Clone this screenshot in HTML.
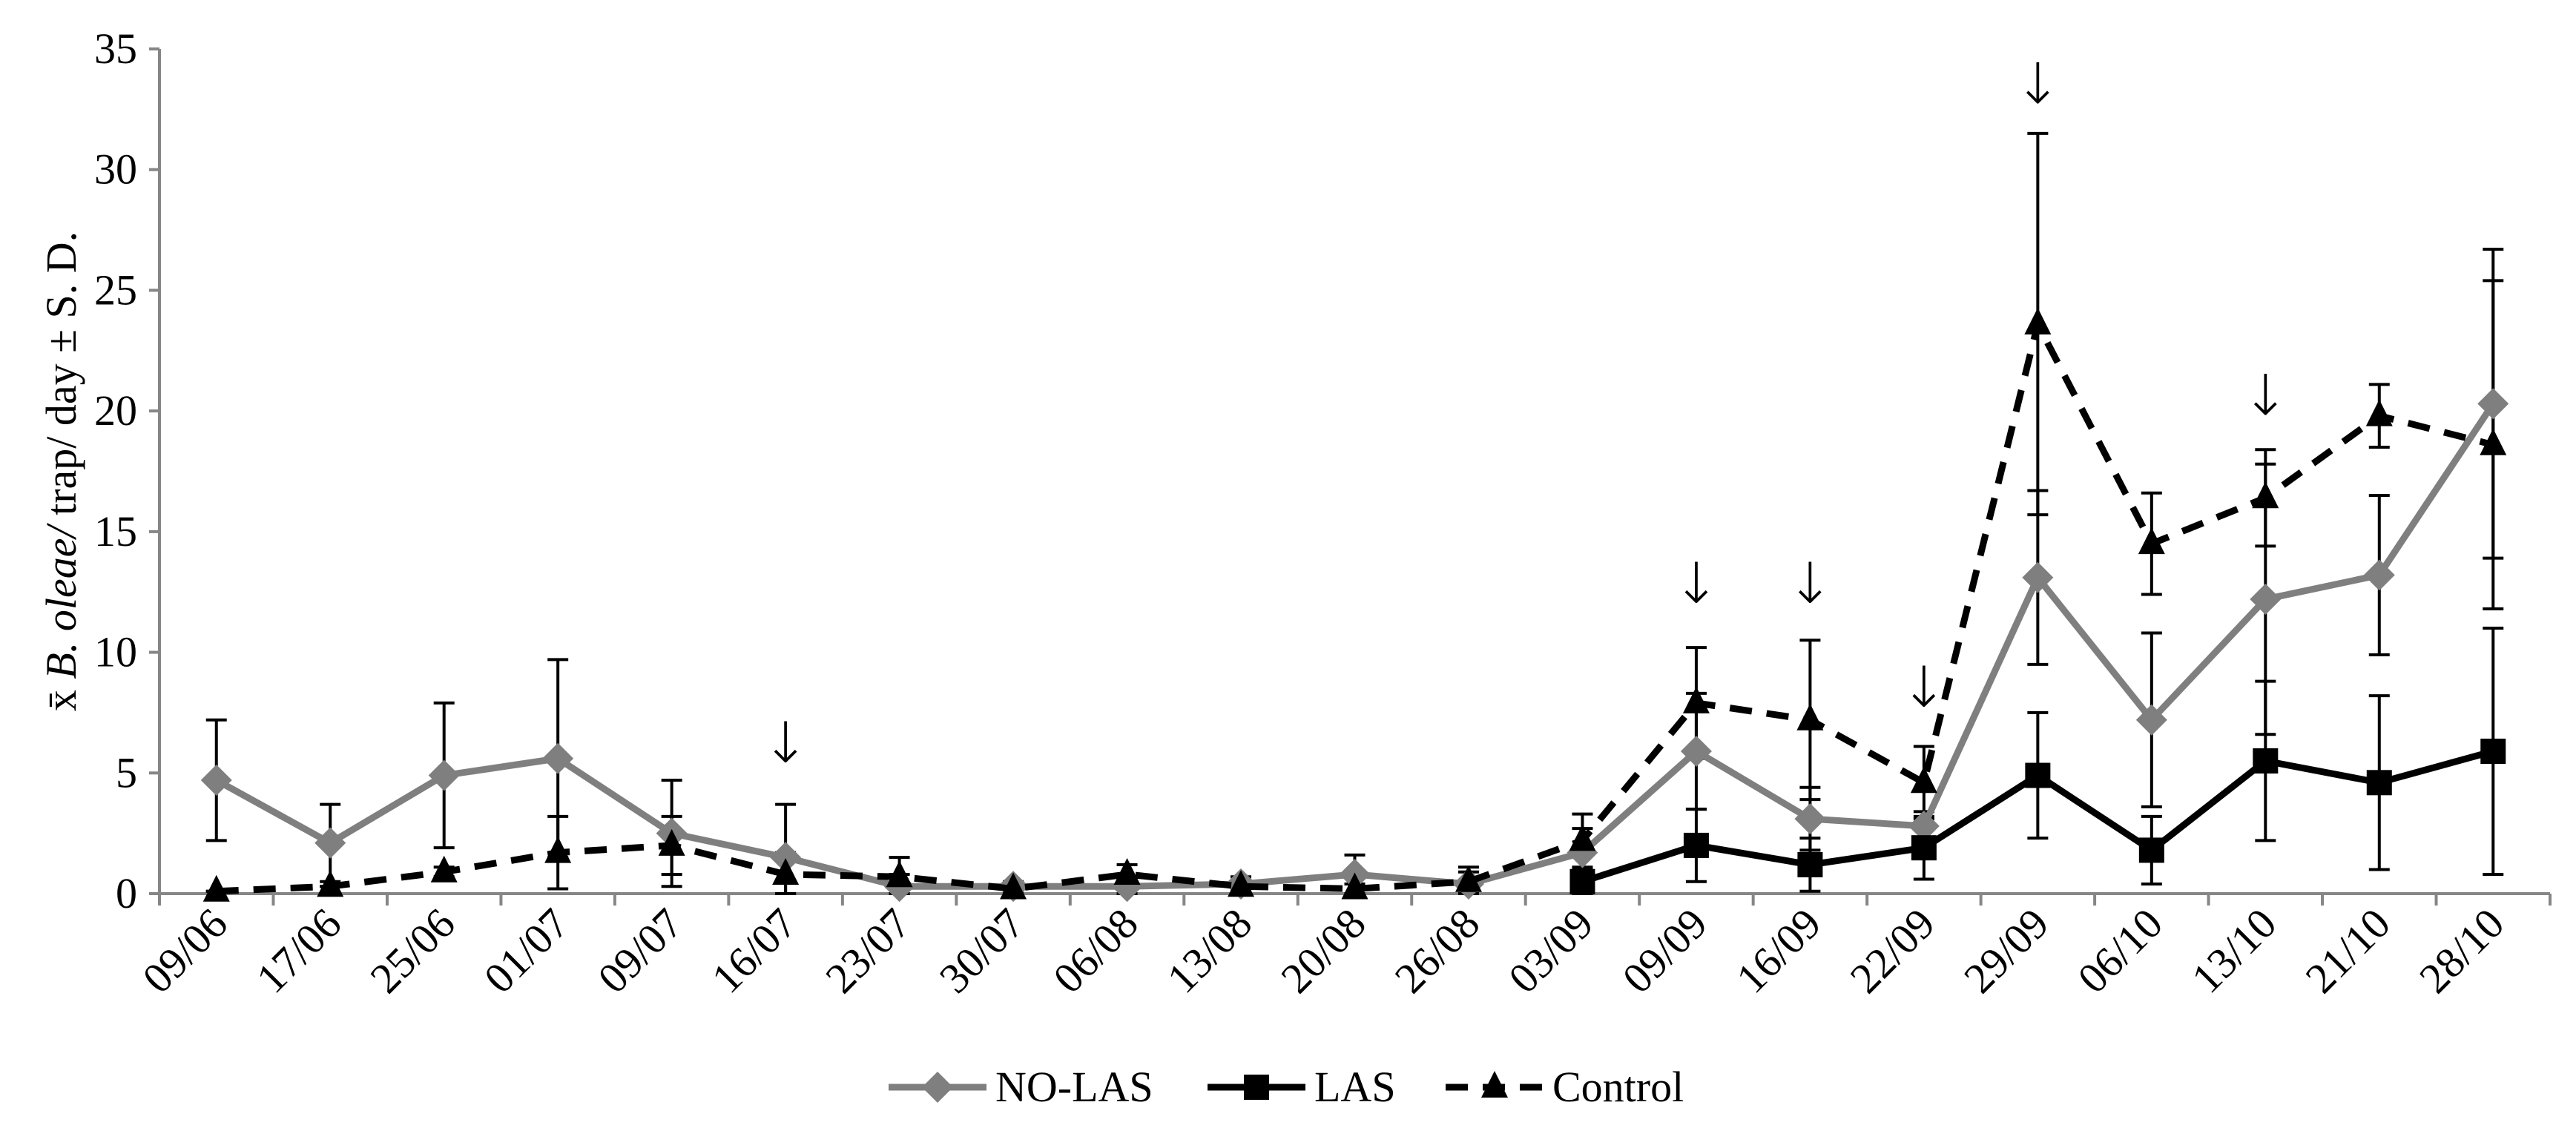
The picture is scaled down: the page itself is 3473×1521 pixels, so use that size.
<!DOCTYPE html>
<html><head><meta charset="utf-8"><style>
html,body{margin:0;padding:0;background:#fff;}
svg{display:block;font-family:"Liberation Serif",serif;}
</style></head><body>
<svg id="chart" width="3473" height="1521" viewBox="0 0 3473 1521" xmlns="http://www.w3.org/2000/svg"></svg>
<script>
const categories=["09/06","17/06","25/06","01/07","09/07","16/07","23/07","30/07","06/08","13/08","20/08","26/08","03/09","09/09","16/09","22/09","29/09","06/10","13/10","21/10","28/10"];
const noLas=[4.7,2.1,4.9,5.6,2.5,1.5,0.3,0.3,0.3,0.4,0.8,0.4,1.7,5.9,3.1,2.8,13.1,7.2,12.2,13.2,20.3];
const noLasSD=[2.5,1.6,3.0,4.1,2.2,2.2,0.5,0.2,0.3,0.3,0.8,0.5,1.0,2.4,1.3,0.6,3.6,3.6,5.6,3.3,6.4];
const las=[null,null,null,null,null,null,null,null,null,null,null,null,0.5,2.0,1.2,1.9,4.9,1.8,5.5,4.6,5.9];
const lasSD=[0,0,0,0,0,0,0,0,0,0,0,0,0.5,1.5,1.1,1.3,2.6,1.4,3.3,3.6,5.1];
const control=[0.1,0.3,0.9,1.7,2.0,0.8,0.7,0.2,0.8,0.3,0.2,0.5,2.2,7.9,7.2,4.6,23.6,14.5,16.4,19.8,18.6];
const controlSD=[0,0,0.2,1.5,1.2,0.9,0.8,0.2,0.4,0.2,0.2,0.6,1.1,2.3,3.3,1.5,7.9,2.1,2.0,1.3,6.8];
const yTicks=[0,5,10,15,20,25,30,35];
const arrowAt=[[5,6.3],[13,12.9],[14,12.9],[15,8.6],[16,33.6],[18,20.7]];

const NS="http://www.w3.org/2000/svg";
const svg=document.getElementById('chart');
const L=215,R=3438,T=66,B=1205,YMAX=35;
const cw=(R-L)/categories.length;
const xs=i=>L+cw*(i+0.5);
const ys=v=>B-(v/YMAX)*(B-T);
function mk(tag,attrs,parent){const e=document.createElementNS(NS,tag);for(const k in attrs)e.setAttribute(k,attrs[k]);(parent||svg).appendChild(e);return e;}

const ax=mk('g',{});


mk('line',{x1:L,y1:T,x2:L,y2:B,stroke:'#868686','stroke-width':4},ax);
mk('line',{x1:L,y1:B,x2:R,y2:B,stroke:'#868686','stroke-width':4},ax);
yTicks.forEach(v=>{
  mk('line',{x1:L-14,y1:ys(v),x2:L,y2:ys(v),stroke:'#868686','stroke-width':4},ax);
  const t=mk('text',{x:L-30,y:ys(v)+19,'text-anchor':'end','font-size':58},ax);
  t.textContent=v;
  
  
});
for(let i=0;i<=categories.length;i++){
  mk('line',{x1:L+cw*i,y1:B,x2:L+cw*i,y2:B+16,stroke:'#868686','stroke-width':4},ax);
}
categories.forEach((c,i)=>{
  const x=xs(i)+18,y=B+44;
  const t=mk('text',{x:x,y:y,'text-anchor':'end','font-size':58,transform:`rotate(-45 ${x} ${y})`},ax);
  t.textContent=c;
  
  
});
const yt=mk('text',{x:0,y:0,'text-anchor':'middle','font-size':58,transform:`translate(102 ${(T+B)/2}) rotate(-90)`});


yt.innerHTML='x̄ <tspan font-style="italic">B. oleae/</tspan> trap/ day ± S. D.';

function errBars(vals,sds,name){
  const g=mk('g',{});
  
  
  vals.forEach((v,i)=>{
    if(v===null)return;
    const x=xs(i),hi=ys(v+sds[i]),lo=ys(Math.max(0,v-sds[i]));
    mk('line',{x1:x,y1:hi,x2:x,y2:lo,stroke:'#000','stroke-width':4},g);
    mk('line',{x1:x-14,y1:hi,x2:x+14,y2:hi,stroke:'#000','stroke-width':4},g);
    mk('line',{x1:x-14,y1:lo,x2:x+14,y2:lo,stroke:'#000','stroke-width':4},g);
  });
}
function series(vals,name,color,dash,marker){
  const g=mk('g',{});
  
  
  const pts=[];vals.forEach((v,i)=>{if(v!==null)pts.push([xs(i),ys(v)]);});
  const p=mk('polyline',{points:pts.map(q=>q.join(',')).join(' '),fill:'none',stroke:color,'stroke-width':9,'stroke-dasharray':dash||'none'},g);
  
  
  pts.forEach(([x,y])=>{
    let m;
    if(marker==='diamond')m=mk('polygon',{points:`${x},${y-21} ${x+21},${y} ${x},${y+21} ${x-21},${y}`,fill:color},g);
    else if(marker==='square')m=mk('rect',{x:x-17,y:y-17,width:34,height:34,fill:color},g);
    else m=mk('polygon',{points:`${x},${y-22} ${x+18},${y+14} ${x-18},${y+14}`,fill:color},g);
    
    
  });
}
errBars(noLas,noLasSD,'no-las-error-bars');
errBars(las,lasSD,'las-error-bars');
errBars(control,controlSD,'control-error-bars');
series(noLas,'no-las-series','#7f7f7f',null,'diamond');
series(las,'las-series','#000',null,'square');
series(control,'control-series','#000','30,20','triangle');

arrowAt.forEach(([i,v])=>{
  const t=mk('text',{x:xs(i),y:ys(v)+28,'text-anchor':'middle','font-size':76,'font-family':'DejaVu Sans, sans-serif','font-weight':'200'});
  t.textContent='↓';
  
  
});

const lg=mk('g',{});


const ly=1466;
[[1198,'NO-LAS','#7f7f7f',null,'diamond'],[1628,'LAS','#000',null,'square'],[1949,'Control','#000','30,20','triangle']].forEach(([x0,lab,col,dash,mkr])=>{
  const e=mk('g',{},lg);
  
  
  mk('line',{x1:x0,y1:ly,x2:x0+132,y2:ly,stroke:col,'stroke-width':9,'stroke-dasharray':dash||'none'},e);
  const cx=x0+66;
  if(mkr==='diamond')mk('polygon',{points:`${cx},${ly-21} ${cx+21},${ly} ${cx},${ly+21} ${cx-21},${ly}`,fill:col},e);
  else if(mkr==='square')mk('rect',{x:cx-17,y:ly-17,width:34,height:34,fill:col},e);
  else mk('polygon',{points:`${cx},${ly-22} ${cx+18},${ly+14} ${cx-18},${ly+14}`,fill:col},e);
  const t=mk('text',{x:x0+144,y:ly+19,'font-size':58},e);
  t.textContent=lab;
});
</script>
</body></html>
